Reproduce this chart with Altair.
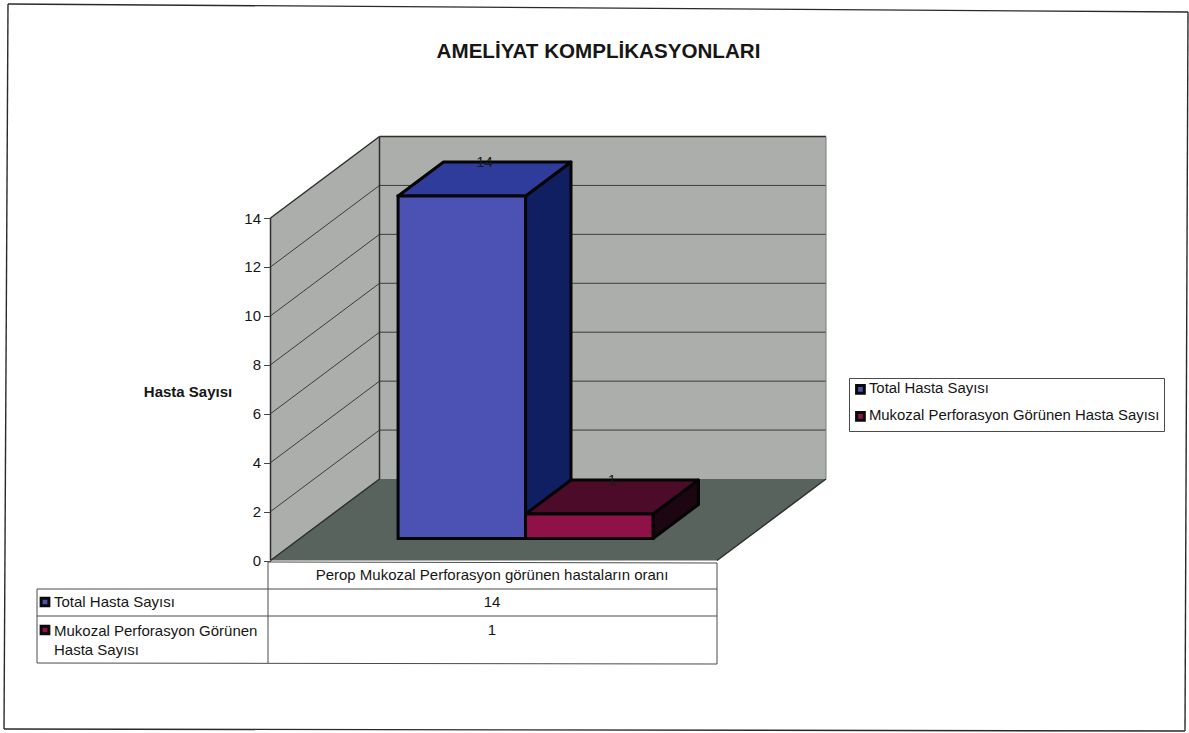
import altair as alt
import pandas as pd

# Chart content
TITLE = "AMELİYAT KOMPLİKASYONLARI"
CATEGORY = "Perop Mukozal Perforasyon görünen hastaların oranı"
SERIES = ["Total Hasta Sayısı", "Mukozal Perforasyon Görünen Hasta Sayısı"]
VALUES = [14, 1]
Y_TICKS = [0, 2, 4, 6, 8, 10, 12, 14]

# Colours of each bar: front, top and side faces
FRONT = ["#4B52B4", "#8F1148"]
TOP = ["#2F3C9C", "#4C0B28"]
SIDE = ["#101F62", "#1B0611"]
WALL = "#ABAEAB"
FLOOR = "#59635D"
LINE = "#3C3C3C"
FONT = "Liberation Sans"

# Oblique projection: category axis spans 0..1, depth spans 0..1,
# one depth unit moves a point right by DEPTH_X and up by DEPTH_Y.
W, H = 1189, 733
X0, X1 = 270.5, 717.0
Y0, Y14 = 560.5, 218.0
PX_U = X1 - X0
PX_V = (Y0 - Y14) / 14
DEPTH_X = 109 / PX_U
DEPTH_Y = 81.5 / PX_V
BAR_START, BAR_WIDTH = 0.2198, 0.2855
BAR_D0, BAR_D1 = 0.27, 0.687

x_scale = alt.Scale(domain=[-X0 / PX_U, (W - X0) / PX_U], range=[0, W], nice=False, zero=False)
y_scale = alt.Scale(domain=[(Y0 - H) / PX_V, Y0 / PX_V], range=[H, 0], nice=False, zero=False)
X = lambda f="x": alt.X(f"{f}:Q", scale=x_scale, axis=None)
Y = lambda f="y": alt.Y(f"{f}:Q", scale=y_scale, axis=None)


def px(u, d):
    return u + d * DEPTH_X


def py(v, d):
    return v + d * DEPTH_Y


def band(points, color, stroke=None, sw=0):
    """Face whose left and right edges are vertical: (x, y, y2) rows."""
    df = pd.DataFrame(points, columns=["x", "y", "y2"])
    kw = dict(stroke=stroke, strokeWidth=sw, strokeJoin="round") if stroke else {}
    return alt.Chart(df).mark_area(color=color, opacity=1, **kw).encode(
        x=X(), y=alt.Y("y:Q", scale=y_scale, axis=None, stack=None), y2="y2:Q"
    )


def slab(points, color, stroke=None, sw=0):
    """Face whose top and bottom edges are horizontal: (y, x, x2) rows."""
    df = pd.DataFrame(points, columns=["y", "x", "x2"])
    kw = dict(stroke=stroke, strokeWidth=sw, strokeJoin="round") if stroke else {}
    return alt.Chart(df).mark_area(color=color, orient="horizontal", opacity=1, **kw).encode(
        y=Y(), x=alt.X("x:Q", scale=x_scale, axis=None, stack=None), x2="x2:Q"
    )


def segments(rows, color=LINE, width=1.0):
    """Straight lines in chart units."""
    df = pd.DataFrame(rows, columns=["x", "y", "x2", "y2"])
    return alt.Chart(df).mark_rule(color=color, strokeWidth=width).encode(
        x=X(), y=Y(), x2="x2:Q", y2="y2:Q"
    )


def screen_lines(rows, color="#4A4A4A", width=1.0):
    """Lines placed in page pixels: frame and data table."""
    df = pd.DataFrame(rows, columns=["x", "y", "x2", "y2"])
    return alt.Chart(df).mark_rule(color=color, strokeWidth=width).encode(
        x=alt.X("x:Q", scale=None, axis=None), y=alt.Y("y:Q", scale=None, axis=None),
        x2="x2:Q", y2="y2:Q"
    )


def label(text, x, y, size=15, align="left", weight="normal"):
    return alt.Chart(pd.DataFrame({"t": [text]})).mark_text(
        font=FONT, fontSize=size, align=align, baseline="middle", fontWeight=weight, color="#161616"
    ).encode(x=alt.value(x), y=alt.value(y), text="t:N")


def key(color, x, y):
    return alt.Chart(pd.DataFrame({"c": [color]})).mark_square(
        size=60, fill=color, stroke="#0A0A0A", strokeWidth=3, opacity=1
    ).encode(x=alt.value(x), y=alt.value(y))


top_v = max(Y_TICKS)
layers = []

# Back wall, side wall and floor
layers.append(band([[px(0, 1), py(0, 1), py(top_v, 1)], [px(1, 1), py(0, 1), py(top_v, 1)]], WALL))
layers.append(band([[px(0, 0), py(0, 0), py(top_v, 0)], [px(0, 1), py(0, 1), py(top_v, 1)]], WALL))
layers.append(slab([[py(0, 0), px(0, 0), px(1, 0)], [py(0, 1), px(0, 1), px(1, 1)]], FLOOR))

# Gridlines on both walls
grid = [[px(0, 1), py(v, 1), px(1, 1), py(v, 1)] for v in Y_TICKS[1:-1]]
grid += [[px(0, 0), py(v, 0), px(0, 1), py(v, 1)] for v in Y_TICKS[1:-1]]
layers.append(segments(grid))

# Wall edges
edges = [
    [px(0, 0), py(0, 0), px(0, 0), py(top_v, 0)],
    [px(0, 1), py(0, 1), px(0, 1), py(top_v, 1)],
    [px(0, 0), py(0, 0), px(0, 1), py(0, 1)],
    [px(1, 0), py(0, 0), px(1, 1), py(0, 1)],
    [px(0, 0), py(top_v, 0), px(0, 1), py(top_v, 1)],
    [px(0, 1), py(top_v, 1), px(1, 1), py(top_v, 1)],
]
layers.append(segments(edges, "#2E2E2E", 1.5))
layers.append(segments([[px(1, 1), py(0, 1), px(1, 1), py(top_v, 1)]], "#7A7A7A", 1.0))

# Bars: side and top faces drawn per series, fronts drawn together below
front_rows = []
label_rows = []
EDGE = "#050505"
for i, (name, val) in enumerate(zip(SERIES, VALUES)):
    u0 = BAR_START + i * BAR_WIDTH
    u1 = u0 + BAR_WIDTH
    layers.append(band([[px(u1, BAR_D0), py(0, BAR_D0), py(val, BAR_D0)],
                        [px(u1, BAR_D1), py(0, BAR_D1), py(val, BAR_D1)]], SIDE[i], EDGE, 3))
    layers.append(slab([[py(val, BAR_D0), px(u0, BAR_D0), px(u1, BAR_D0)],
                        [py(val, BAR_D1), px(u0, BAR_D1), px(u1, BAR_D1)]], TOP[i], EDGE, 3))
    front_rows.append({"series": name, "x": px(u0, BAR_D0), "x2": px(u1, BAR_D0),
                       "y": py(0, BAR_D0), "y2": py(val, BAR_D0)})
    label_rows.append({"value": val, "x": px((u0 + u1) / 2, (BAR_D0 + BAR_D1) / 2),
                       "y": py(val, BAR_D1)})

front = alt.Chart(pd.DataFrame(front_rows)).mark_rect(
    stroke=EDGE, strokeWidth=3, opacity=1
).encode(
    x=X(), x2="x2:Q", y=Y(), y2="y2:Q",
    color=alt.Color(
        "series:N",
        scale=alt.Scale(domain=SERIES, range=FRONT),
        legend=alt.Legend(
            title=None, orient="none", legendX=849, legendY=378,
            symbolType="square", symbolSize=60, symbolStrokeWidth=3,
            symbolStrokeColor="#0A0A0A", symbolOpacity=1,
            labelFont=FONT, labelFontSize=14.9, labelColor="#161616", labelLimit=400,
            labelOffset=1, rowPadding=6, padding=4,
            strokeColor="#4A4A4A", fillColor="#FFFFFF",
        ),
    ),
)
layers.append(front)

# Value labels sit on the back edge of each bar's top face
layers.append(
    alt.Chart(pd.DataFrame(label_rows)).mark_text(
        font=FONT, fontSize=15, baseline="middle", color="#1C1C1C"
    ).encode(x=X(), y=Y(), text="value:Q")
)

plot = alt.layer(*layers)

# Value axis placed on the front edge of the side wall
axis_layer = alt.Chart(pd.DataFrame({"v": Y_TICKS})).mark_point(opacity=0).encode(
    y=alt.Y(
        "v:Q", scale=y_scale,
        axis=alt.Axis(
            values=Y_TICKS, offset=-X0, domain=False, grid=False, tickSize=7,
            tickColor="#444444", labelFont=FONT, labelFontSize=15, labelColor="#161616",
            labelPadding=3, title="Hasta Sayısı", titleFont=FONT, titleFontSize=15,
            titleFontWeight="bold", titleColor="#161616", titleAngle=0, titleAlign="center",
            titleBaseline="middle", titleX=187.5 - X0, titleY=391,
        ),
    )
)

# Heading
heading = label(TITLE, 598.5, 52, size=20.6, align="center", weight="bold")

# Page frame and data table rules
frame = screen_lines(
    [[8, 4, 1188, 12], [8, 4, 4, 729], [4, 729, 1185, 731], [1188, 12, 1185, 731]],
    "#2A2A2A", 1.4,
)
table = screen_lines([
    [268, 562, 717, 563],
    [37, 589, 717, 589],
    [37, 616, 717, 616],
    [37, 663, 717, 664],
    [37, 589, 37, 663],
    [268, 561, 268, 663],
    [717, 563, 717, 664],
])

chart = alt.layer(
    plot,
    axis_layer,
    alt.layer(
        frame, table, heading,
        label(CATEGORY, 492, 575, align="center"),
        label(str(VALUES[0]), 492, 602, align="center"),
        label(str(VALUES[1]), 492, 630, align="center"),
        key(FRONT[0], 45, 602), label(SERIES[0], 54, 602),
        key(FRONT[1], 45, 630), label("Mukozal Perforasyon Görünen", 54, 631),
        label("Hasta Sayısı", 54, 650),
    ),
).resolve_scale(x="independent", y="independent", color="independent").properties(
    width=W, height=H, padding=0, autosize=alt.AutoSizeParams(type="none"), background="#FFFFFF"
).configure_view(stroke=None)

chart.save("out.html", embed_options={"renderer": "svg", "actions": False})
